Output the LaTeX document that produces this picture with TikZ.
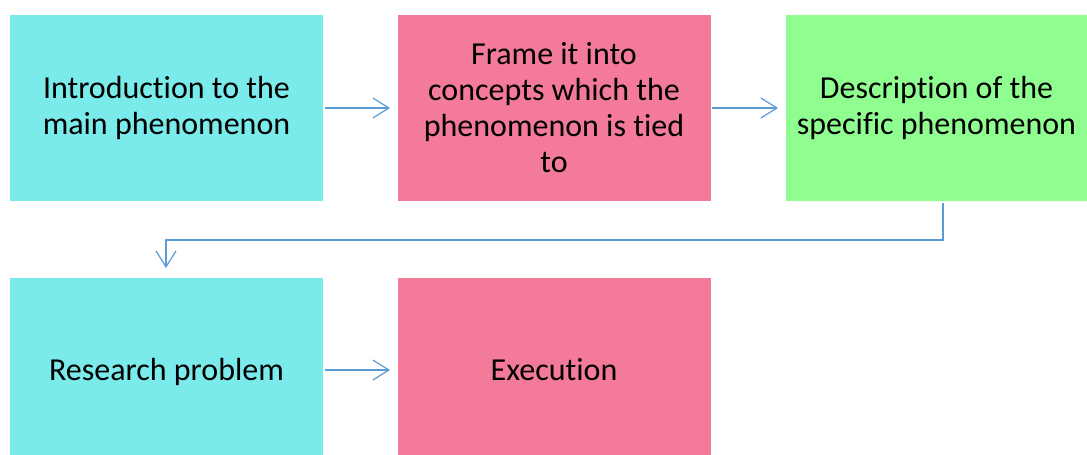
\documentclass[tikz,border=0pt]{standalone}
\usepackage{fontspec}
\setmainfont{Carlito}[Ligatures=NoCommon]
\usetikzlibrary{arrows.meta}
\definecolor{boxcyan}{HTML}{7AEAEA}
\definecolor{boxpink}{HTML}{F47A9A}
\definecolor{boxgreen}{HTML}{90FD90}
\definecolor{linkblue}{HTML}{5B9BD5}
\begin{document}
\begin{tikzpicture}[x=1pt,y=-1pt,
  card/.style={minimum width=313pt,minimum height=186pt,inner sep=0pt,
    align=center,font=\fontsize{32}{36}\selectfont,text=black},
  cardlow/.style={card,minimum height=177pt,text height=34pt,text depth=7pt},
  link/.style={draw=linkblue,line width=1.2pt,
    -{Straight Barb[length=16pt,width=20pt,line width=1.2pt]}}]
\useasboundingbox (0,0) rectangle (1087,455);
% top row
\node[card,fill=boxcyan] (intro) at (166.5,108) {Introduction to the\\main phenomenon};
\node[card,fill=boxpink] (frame) at (554,108) {Frame it into\\concepts which the\\phenomenon is tied\\to};
\node[card,fill=boxgreen,minimum width=301pt] (desc) at (936.5,108) {Description of the\\specific phenomenon};
% bottom row
\node[cardlow,fill=boxcyan] (problem) at (166.5,366.5) {Research problem};
\node[cardlow,fill=boxpink] (exec) at (554,366.5) {Execution};
% connectors
\coordinate (a1) at (325,108);
\coordinate (a2) at (390,108);
\coordinate (b1) at (712,108);
\coordinate (b2) at (778,108);
\coordinate (c1) at (943,203);
\coordinate (c2) at (166,268);
\coordinate (d1) at (325,370);
\coordinate (d2) at (390,370);
\draw[link] (a1) -- (a2);
\draw[link] (b1) -- (b2);
\draw[link] (c1) |- (554,240) -| (c2);
\draw[link] (d1) -- (d2);
\end{tikzpicture}
\end{document}
